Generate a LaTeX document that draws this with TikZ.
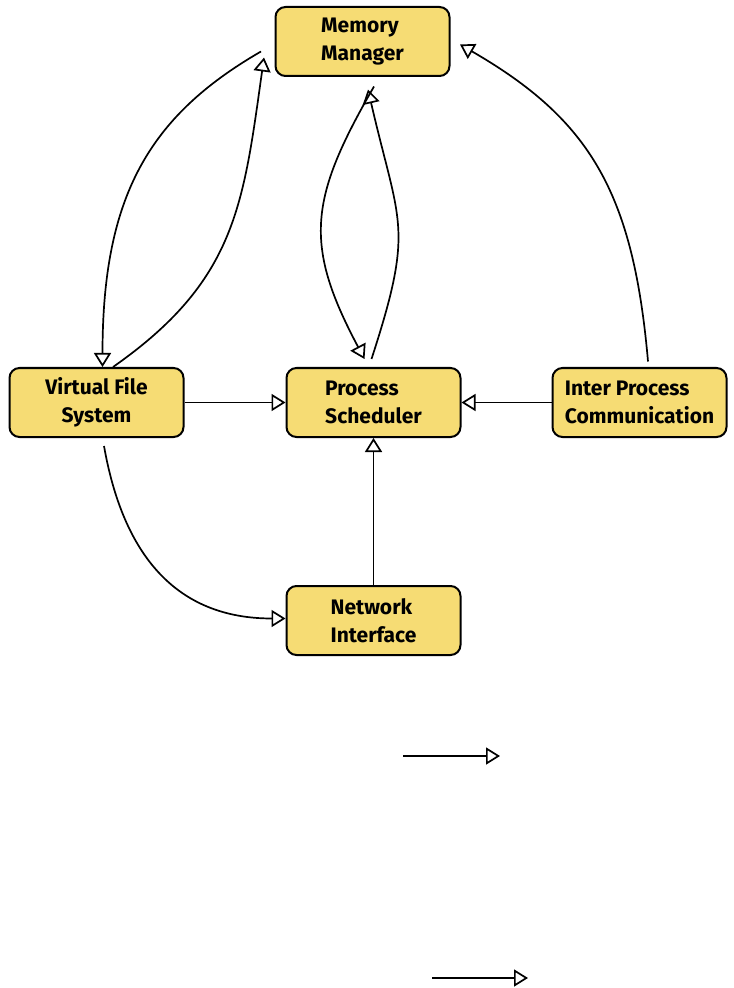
\documentclass[tikz,border=0pt]{standalone}
\usepackage{fontspec}
\setmainfont{Fira Sans}
\usetikzlibrary{shapes,arrows.meta,positioning}
\definecolor{boxyellow}{HTML}{F6DC74}
\tikzstyle{block} = [draw, rectangle, rounded corners=5pt, fill=boxyellow, line width=1pt, minimum width=87pt, minimum height=34.5pt, font=\fontsize{10.5}{14}\selectfont\bfseries, align=left]
\tikzstyle{flow} = [draw, line width=0.85pt, -{Triangle[open,length=7pt,width=8.5pt,line width=0.85pt]}]
\tikzstyle{point} = [coordinate]

\begin{document}
\begin{tikzpicture}[x=0.5pt,y=0.5pt]
	\useasboundingbox (0,0) rectangle (733,-988);

	% the kernel blocks, row in the middle first
	\node [block,align=center] (vfs) at (96.5,-402.5) {Virtual File\\System};
	\node [block,right=50.5pt of vfs] (ps) {Process\\Scheduler};
	\node [block,right=45pt of ps] (ipc) {Inter Process\\Communication};
	\node [block,above=145pt of ps,xshift=-5.5pt] (mm) {Memory\\Manager};
	\node [block,below=73.5pt of ps] (ni) {Network\\Interface};

	% loose arrows at the bottom
	\node [point] (a1) at (403,-756) {};
	\node [point] (a2) at (500,-756) {};
	\node [point] (b1) at (432,-978) {};
	\node [point] (b2) at (528,-978) {};

	% memory manager <-> virtual file system
	\draw [flow] ([shift={(-13.5,-10)}]mm.west) .. controls +(210:130) and +(90:170) .. ([shift={(6,0)}]vfs.north);
	\draw [flow] ([shift={(16.5,0)}]vfs.north) .. controls +(35:150) and +(262:150) .. ([shift={(-10.5,-16)}]mm.west);

	% memory manager <-> scheduler
	\draw [flow] ([shift={(11.5,-9.5)}]mm.south) .. controls +(240:130) and +(118:130) .. ([shift={(-9,8)}]ps.north);
	\draw [flow] ([shift={(-2,8)}]ps.north) .. controls +(72:140) and +(283:140) .. ([shift={(5.5,-12.5)}]mm.south);

	% ipc up to memory
	\draw [flow] ([shift={(8.5,5.5)}]ipc.north) .. controls +(95:170) and +(330:150) .. ([shift={(9.5,-3)}]mm.east);

	% into the scheduler
	\draw [flow] (vfs) -- (ps);
	\draw [flow] (ipc) -- (ps);
	\draw [flow] (ni) -- (ps);

	% vfs down to network
	\draw [flow] ([shift={(7.5,-8)}]vfs.south) .. controls +(280:110) and +(180:110) .. ([shift={(0,2)}]ni.west);

	\draw [flow] (a1) -- (a2);
	\draw [flow] (b1) -- (b2);

\end{tikzpicture}
\end{document}
